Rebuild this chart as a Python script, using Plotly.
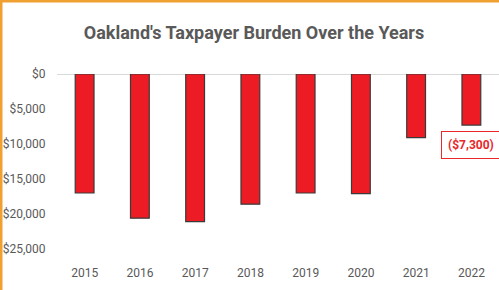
import plotly.graph_objects as go

years = ["2015", "2016", "2017", "2018", "2019", "2020", "2021", "2022"]
burden = [-17000, -20600, -21100, -18600, -17000, -17100, -9100, -7300]
ytick_vals = [0, -5000, -10000, -15000, -20000, -25000]
ytick_text = ["$0", "$5,000", "$10,000", "$15,000", "$20,000", "$25,000"]
title_text = "Oakland's Taxpayer Burden Over the Years"
label_text = "($7,300)"

W, H = 499, 290
ml, mr, mt, mb = 57, 0, 74, 34
FONT = "Roboto, sans-serif"
GREY = "#595959"

idx = list(range(len(years)))

fig = go.Figure()
fig.add_trace(go.Bar(
    x=idx, y=burden,
    marker=dict(color="#ED1C24", line=dict(color="#3a3a3a", width=1.2)),
    width=0.34,
))

fig.add_annotation(
    x=idx[-1], y=burden[-1], xref="x", yref="y",
    text="<b>" + label_text + "</b>", showarrow=False,
    yanchor="top", yshift=-6,
    font=dict(family=FONT, size=12, color="#E8282A"),
    bgcolor="white", bordercolor="#E8282A", borderwidth=1, borderpad=6,
)

pw = W - ml - mr
ph = H - mt - mb
def px2x(px):
    return (px - ml) / pw
def py2y(py):
    return 1 - (py - mt) / ph

fig.update_layout(
    width=W, height=H,
    margin=dict(l=ml, r=mr, t=mt, b=mb),
    paper_bgcolor="white", plot_bgcolor="white",
    showlegend=False,
    title=dict(text="<b>" + title_text + "</b>", x=254 / W, xanchor="center",
               y=1 - 33 / H, yanchor="middle", xref="container", yref="container",
               font=dict(family=FONT, size=18, color=GREY)),
    xaxis=dict(type="linear", range=[-0.5, len(years) - 0.5], tickvals=idx, ticktext=years,
               showgrid=False, showline=False, zeroline=False,
               ticks="outside", ticklen=6, tickcolor="rgba(0,0,0,0)",
               tickfont=dict(family=FONT, size=12, color=GREY)),
    yaxis=dict(range=[-26000, 0], tickvals=ytick_vals, ticktext=ytick_text,
               showgrid=False, zeroline=True, zerolinecolor="#d9d9d9", zerolinewidth=1,
               showline=False, ticks="outside", ticklen=8, tickcolor="rgba(0,0,0,0)",
               tickfont=dict(family=FONT, size=12, color=GREY)),
    shapes=[
        dict(type="line", xref="paper", yref="paper", x0=px2x(1), x1=px2x(1),
             y0=py2y(0), y1=py2y(H), line=dict(color="#F0A030", width=3)),
        dict(type="line", xref="paper", yref="paper", x0=px2x(0), x1=px2x(W),
             y0=py2y(1), y1=py2y(1), line=dict(color="#F0A030", width=3)),
    ],
)

fig.write_html("out.html", config={"displayModeBar": False},
               post_script="document.body.style.margin='0';document.body.style.overflow='hidden';")
